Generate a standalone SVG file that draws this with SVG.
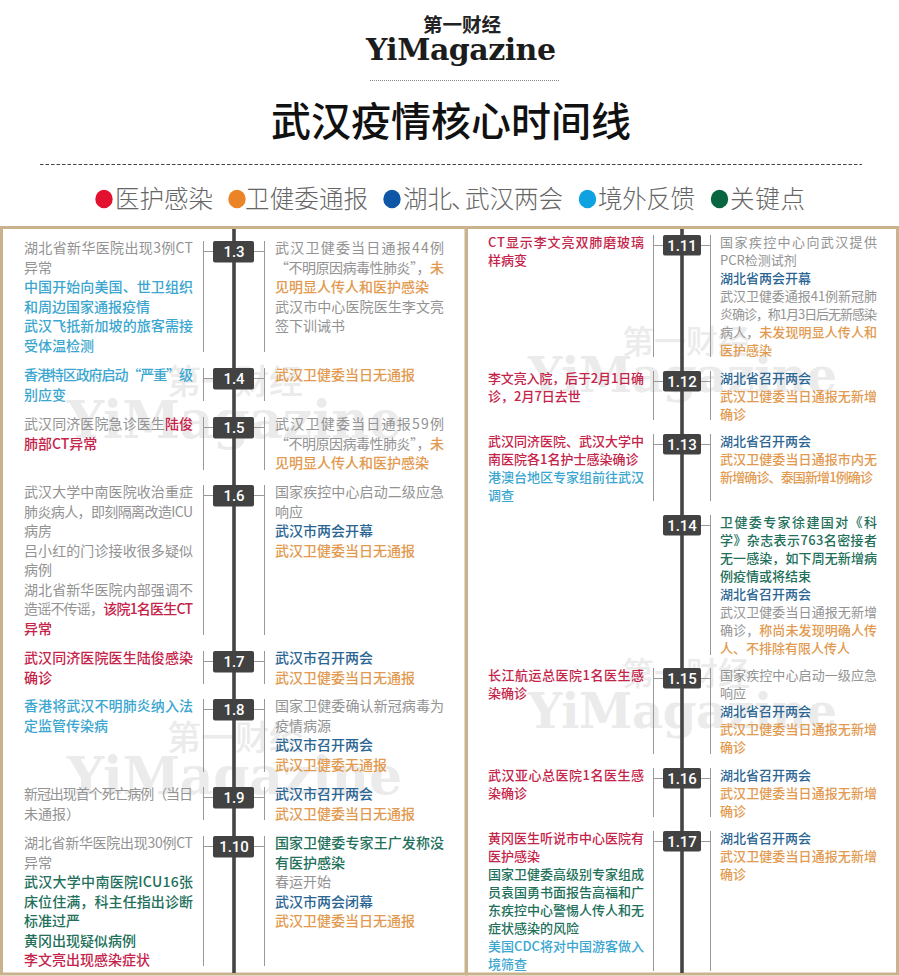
<svg xmlns="http://www.w3.org/2000/svg" width="899" height="976" viewBox="0 0 899 976">
<style>
text{font-family:"Noto Sans CJK SC","Noto Sans",sans-serif}
.l text{font-size:14px}
.s text{font-size:13px}
.g{fill:#939393}
.r{fill:#c5244a;font-weight:500}
.o{fill:#e29a50;font-weight:500}
.n{fill:#2a6593;font-weight:500}
.c{fill:#3ba6cf;font-weight:500}
.k{fill:#22705a;font-weight:500}
.box{fill:#424242}
.d{fill:#fff;font-family:Roboto,"Liberation Sans",sans-serif!important;font-size:15px!important;font-weight:500;text-anchor:middle}
.thin{stroke:#999;stroke-width:1;fill:none}
.axis{stroke:#454545;stroke-width:3.6;fill:none}
.leg{font-size:24.5px;fill:#666;font-weight:300}
.wm{font-family:"DejaVu Serif",serif!important;font-weight:700;fill:#ebebeb}
.wc{font-weight:500;fill:#ebebeb}
</style>
<rect width="899" height="976" fill="#fff"/>
<g id="header">
<text x="423" y="32" font-size="19.5" font-weight="700" fill="#222" textLength="78">第一财经</text>
<text x="366" y="60" font-size="30" textLength="190" style="font-family:'DejaVu Serif',serif;font-weight:700" fill="#1c1c1c">YiMagazine</text>
<line x1="370" y1="80.5" x2="559" y2="80.5" stroke="#888" stroke-width="1" stroke-dasharray="1 1"/>
<text x="271" y="136" font-size="40" font-weight="500" fill="#111" textLength="360">武汉疫情核心时间线</text>
<line x1="40" y1="164.5" x2="862" y2="164.5" stroke="#444" stroke-width="1" stroke-dasharray="3.5 2"/>
</g>
<g id="legend">
<ellipse cx="104" cy="199" rx="8.7" ry="9.2" fill="#e1112f"/><text class="leg" x="115" y="208" textLength="98">医护感染</text>
<ellipse cx="237" cy="199" rx="8.7" ry="9.2" fill="#ea8427"/><text class="leg" x="245" y="208" textLength="123">卫健委通报</text>
<ellipse cx="392" cy="199" rx="8.7" ry="9.2" fill="#0f57a6"/><text class="leg" x="403" y="208">湖北<tspan x="451">、</tspan><tspan x="465">武汉两会</tspan></text>
<ellipse cx="587.500" cy="199" rx="8.7" ry="9.2" fill="#0ea2e0"/><text class="leg" x="598" y="208" textLength="97">境外反馈</text>
<ellipse cx="719.500" cy="199" rx="8.7" ry="9.2" fill="#07653f"/><text class="leg" x="730" y="208" textLength="75">关键点</text>
</g>
<g id="frame" fill="none" stroke="#c9b28c" stroke-width="3">
<rect x="1.500" y="227.500" width="464.500" height="746.500"/>
<rect x="466.500" y="227.500" width="431" height="746.500"/>
</g>
<g id="watermarks">
<text class="wc" x="167" y="394" font-size="34">第一财经</text>
<text class="wm" x="67" y="438" font-size="52" textLength="335">YiMagazine</text>
<text class="wc" x="167" y="750" font-size="34">第一财经</text>
<text class="wm" x="67" y="794" font-size="52" textLength="335">YiMagazine</text>
<text class="wc" x="622" y="353" font-size="32">第一财经</text>
<text class="wm" x="528" y="392" font-size="48" textLength="309">YiMagazine</text>
<text class="wc" x="622" y="685" font-size="32">第一财经</text>
<text class="wm" x="528" y="728" font-size="48" textLength="309">YiMagazine</text>
</g>
<g id="connectors">
<path class="axis" d="M234 229V973M682 229V973"/>
<path class="thin" d="M203.500 241V352M264.500 241V352M203.500 251.500H213M254 251.500H264.500
M203.500 368V401M264.500 368V401M203.500 378.500H213M254 378.500H264.500
M203.500 417V470M264.500 417V470M203.500 427.500H213M254 427.500H264.500
M203.500 485V635M264.500 485V635M203.500 495.500H213M254 495.500H264.500
M203.500 651V684M264.500 651V684M203.500 661.500H213M254 661.500H264.500
M203.500 699V772M264.500 699V772M203.500 709.500H213M254 709.500H264.500
M203.500 787V820M264.500 787V820M203.500 797.500H213M254 797.500H264.500
M203.500 836V966M264.500 836V966M203.500 846.500H213M254 846.500H264.500
M653.500 235V357M710.500 235V357M653.500 245.500H663M701 245.500H710.500
M653.500 371V420M710.500 371V420M653.500 381.500H663M701 381.500H710.500
M653.500 434V501M710.500 434V501M653.500 444.500H663M701 444.500H710.500
M710.500 515V655M701 525.500H710.500
M653.500 668V754M710.500 668V754M653.500 678.500H663M701 678.500H710.500
M653.500 768V817M710.500 768V817M653.500 778.500H663M701 778.500H710.500
M653.500 831V971M710.500 831V971M653.500 841.500H663M701 841.500H710.500"/>
</g>
<g id="d1-3" class="l"><rect class="box" x="213" y="241" width="41" height="21.500" rx="2"/><text class="d" x="234" y="257">1.3</text>
<text class="g" x="24" y="253" textLength="169">湖北省新华医院出现3例CT</text><text class="g" x="24" y="272.500">异常</text>
<text class="c" x="24" y="292" textLength="169">中国开始向美国、世卫组织</text><text class="c" x="24" y="311.500">和周边国家通报疫情</text>
<text class="c" x="24" y="331" textLength="169">武汉飞抵新加坡的旅客需接</text><text class="c" x="24" y="350.500">受体温检测</text>
<text class="g" x="275" y="253" textLength="169">武汉卫健委当日通报44例</text>
<text x="275" y="272.500" textLength="169"><tspan class="g">“不明原因病毒性肺炎”，</tspan><tspan class="o">未</tspan></text>
<text class="o" x="275" y="292">见明显人传人和医护感染</text>
<text class="g" x="275" y="311.500" textLength="169">武汉市中心医院医生李文亮</text><text class="g" x="275" y="331">签下训诫书</text></g>
<g id="d1-4" class="l"><rect class="box" x="213" y="368" width="41" height="21.500" rx="2"/><text class="d" x="234" y="384">1.4</text>
<text class="c" x="24" y="380" textLength="169">香港特区政府启动“严重”级</text><text class="c" x="24" y="399.500">别应变</text>
<text class="o" x="275" y="380">武汉卫健委当日无通报</text></g>
<g id="d1-5" class="l"><rect class="box" x="213" y="417" width="41" height="21.500" rx="2"/><text class="d" x="234" y="433">1.5</text>
<text x="24" y="429" textLength="169"><tspan class="g">武汉同济医院急诊医生</tspan><tspan class="r">陆俊</tspan></text><text class="r" x="24" y="448.500">肺部CT异常</text>
<text class="g" x="275" y="429" textLength="169">武汉卫健委当日通报59例</text>
<text x="275" y="448.500" textLength="169"><tspan class="g">“不明原因病毒性肺炎”，</tspan><tspan class="o">未</tspan></text>
<text class="o" x="275" y="468">见明显人传人和医护感染</text></g>
<g id="d1-6" class="l"><rect class="box" x="213" y="485" width="41" height="21.500" rx="2"/><text class="d" x="234" y="501">1.6</text>
<text class="g" x="24" y="497" textLength="169">武汉大学中南医院收治重症</text><text class="g" x="24" y="516.500" textLength="169">肺炎病人，即刻隔离改造ICU</text><text class="g" x="24" y="536">病房</text>
<text class="g" x="24" y="555.500" textLength="169">吕小红的门诊接收很多疑似</text><text class="g" x="24" y="575">病例</text>
<text class="g" x="24" y="594.500" textLength="169">湖北省新华医院内部强调不</text>
<text x="24" y="614" textLength="169"><tspan class="g">造谣不传谣，</tspan><tspan class="r">该院1名医生CT</tspan></text><text class="r" x="24" y="633.500">异常</text>
<text class="g" x="275" y="497" textLength="169">国家疾控中心启动二级应急</text><text class="g" x="275" y="516.500">响应</text>
<text class="n" x="275" y="536">武汉市两会开幕</text><text class="o" x="275" y="555.500">武汉卫健委当日无通报</text></g>
<g id="d1-7" class="l"><rect class="box" x="213" y="651" width="41" height="21.500" rx="2"/><text class="d" x="234" y="667">1.7</text>
<text class="r" x="24" y="663" textLength="169">武汉同济医院医生陆俊感染</text><text class="r" x="24" y="682.500">确诊</text>
<text class="n" x="275" y="663">武汉市召开两会</text><text class="o" x="275" y="682.500">武汉卫健委当日无通报</text></g>
<g id="d1-8" class="l"><rect class="box" x="213" y="699" width="41" height="21.500" rx="2"/><text class="d" x="234" y="715">1.8</text>
<text class="c" x="24" y="711" textLength="169">香港将武汉不明肺炎纳入法</text><text class="c" x="24" y="730.500">定监管传染病</text>
<text class="g" x="275" y="711" textLength="169">国家卫健委确认新冠病毒为</text><text class="g" x="275" y="730.500">疫情病源</text>
<text class="n" x="275" y="750">武汉市召开两会</text><text class="o" x="275" y="769.500">武汉卫健委无通报</text></g>
<g id="d1-9" class="l"><rect class="box" x="213" y="787" width="41" height="21.500" rx="2"/><text class="d" x="234" y="803">1.9</text>
<text class="g" x="24" y="799" textLength="169">新冠出现首个死亡病例（当日</text><text class="g" x="24" y="818.500">未通报）</text>
<text class="n" x="275" y="799">武汉市召开两会</text><text class="o" x="275" y="818.500">武汉卫健委当日无通报</text></g>
<g id="d1-10" class="l"><rect class="box" x="213" y="836" width="41" height="21.500" rx="2"/><text class="d" x="234" y="852">1.10</text>
<text class="g" x="24" y="848" textLength="169">湖北省新华医院出现30例CT</text><text class="g" x="24" y="867.500">异常</text>
<text class="k" x="24" y="887" textLength="169">武汉大学中南医院ICU16张</text><text class="k" x="24" y="906.500" textLength="169">床位住满，科主任指出诊断</text><text class="k" x="24" y="926">标准过严</text>
<text class="k" x="24" y="945.500">黄冈出现疑似病例</text><text class="r" x="24" y="965">李文亮出现感染症状</text>
<text class="k" x="275" y="848" textLength="169">国家卫健委专家王广发称没</text><text class="k" x="275" y="867.500">有医护感染</text>
<text class="g" x="275" y="887">春运开始</text><text class="n" x="275" y="906.500">武汉市两会闭幕</text><text class="o" x="275" y="926">武汉卫健委当日无通报</text></g>
<g id="d1-11" class="s"><rect class="box" x="663" y="235" width="38" height="20.500" rx="2"/><text class="d" x="682" y="250.500">1.11</text>
<text class="r" x="488" y="246.500" textLength="156">CT显示李文亮双肺磨玻璃</text><text class="r" x="488" y="264.600">样病变</text>
<text class="g" x="720" y="246.500" textLength="157">国家疾控中心向武汉提供</text><text class="g" x="720" y="264.600">PCR检测试剂</text>
<text class="n" x="720" y="282.700">湖北省两会开幕</text>
<text class="g" x="720" y="300.800" textLength="157">武汉卫健委通报41例新冠肺</text><text class="g" x="720" y="318.900" textLength="157">炎确诊，称1月3日后无新感染</text>
<text x="720" y="337" textLength="157"><tspan class="g">病人，</tspan><tspan class="o">未发现明显人传人和</tspan></text><text class="o" x="720" y="355.100">医护感染</text></g>
<g id="d1-12" class="s"><rect class="box" x="663" y="371" width="38" height="20.500" rx="2"/><text class="d" x="682" y="386.500">1.12</text>
<text class="r" x="488" y="382.500" textLength="156">李文亮入院，后于2月1日确</text><text class="r" x="488" y="400.600">诊，2月7日去世</text>
<text class="n" x="720" y="382.500">湖北省召开两会</text><text class="o" x="720" y="400.600" textLength="157">武汉卫健委当日通报无新增</text><text class="o" x="720" y="418.700">确诊</text></g>
<g id="d1-13" class="s"><rect class="box" x="663" y="434" width="38" height="20.500" rx="2"/><text class="d" x="682" y="449.500">1.13</text>
<text class="r" x="488" y="445.500" textLength="156">武汉同济医院、武汉大学中</text><text class="r" x="488" y="463.600">南医院各1名护士感染确诊</text>
<text class="c" x="488" y="481.700" textLength="156">港澳台地区专家组前往武汉</text><text class="c" x="488" y="499.800">调查</text>
<text class="n" x="720" y="445.500">湖北省召开两会</text><text class="o" x="720" y="463.600" textLength="157">武汉卫健委当日通报市内无</text><text class="o" x="720" y="481.700" textLength="153">新增确诊、泰国新增1例确诊</text></g>
<g id="d1-14" class="s"><rect class="box" x="663" y="515" width="38" height="20.500" rx="2"/><text class="d" x="682" y="530.500">1.14</text>
<text class="k" x="720" y="526.500" textLength="157">卫健委专家徐建国对《科</text><text class="k" x="720" y="544.600" textLength="157">学》杂志表示763名密接者</text><text class="k" x="720" y="562.700" textLength="157">无一感染，如下周无新增病</text><text class="k" x="720" y="580.800">例疫情或将结束</text>
<text class="n" x="720" y="598.900">湖北省召开两会</text><text class="g" x="720" y="617" textLength="157">武汉卫健委当日通报无新增</text>
<text x="720" y="635.100" textLength="157"><tspan class="g">确诊，</tspan><tspan class="o">称尚未发现明确人传</tspan></text><text class="o" x="720" y="653.200">人、不排除有限人传人</text></g>
<g id="d1-15" class="s"><rect class="box" x="663" y="668" width="38" height="20.500" rx="2"/><text class="d" x="682" y="683.500">1.15</text>
<text class="r" x="488" y="679.500" textLength="156">长江航运总医院1名医生感</text><text class="r" x="488" y="697.600">染确诊</text>
<text class="g" x="720" y="679.500" textLength="157">国家疾控中心启动一级应急</text><text class="g" x="720" y="697.600">响应</text>
<text class="n" x="720" y="715.700">湖北省召开两会</text><text class="o" x="720" y="733.800" textLength="157">武汉卫健委当日通报无新增</text><text class="o" x="720" y="751.900">确诊</text></g>
<g id="d1-16" class="s"><rect class="box" x="663" y="768" width="38" height="20.500" rx="2"/><text class="d" x="682" y="783.500">1.16</text>
<text class="r" x="488" y="779.500" textLength="156">武汉亚心总医院1名医生感</text><text class="r" x="488" y="797.600">染确诊</text>
<text class="n" x="720" y="779.500">湖北省召开两会</text><text class="o" x="720" y="797.600" textLength="157">武汉卫健委当日通报无新增</text><text class="o" x="720" y="815.700">确诊</text></g>
<g id="d1-17" class="s"><rect class="box" x="663" y="831" width="38" height="20.500" rx="2"/><text class="d" x="682" y="846.500">1.17</text>
<text class="r" x="488" y="842.500" textLength="156">黄冈医生听说市中心医院有</text><text class="r" x="488" y="860.600">医护感染</text>
<text class="k" x="488" y="878.700" textLength="156">国家卫健委高级别专家组成</text><text class="k" x="488" y="896.800" textLength="156">员袁国勇书面报告高福和广</text><text class="k" x="488" y="914.900" textLength="156">东疾控中心警惕人传人和无</text><text class="k" x="488" y="933">症状感染的风险</text>
<text class="c" x="488" y="951.100" textLength="156">美国CDC将对中国游客做入</text><text class="c" x="488" y="969.200">境筛查</text>
<text class="n" x="720" y="842.500">湖北省召开两会</text><text class="o" x="720" y="860.600" textLength="157">武汉卫健委当日通报无新增</text><text class="o" x="720" y="878.700">确诊</text></g>
</svg>
